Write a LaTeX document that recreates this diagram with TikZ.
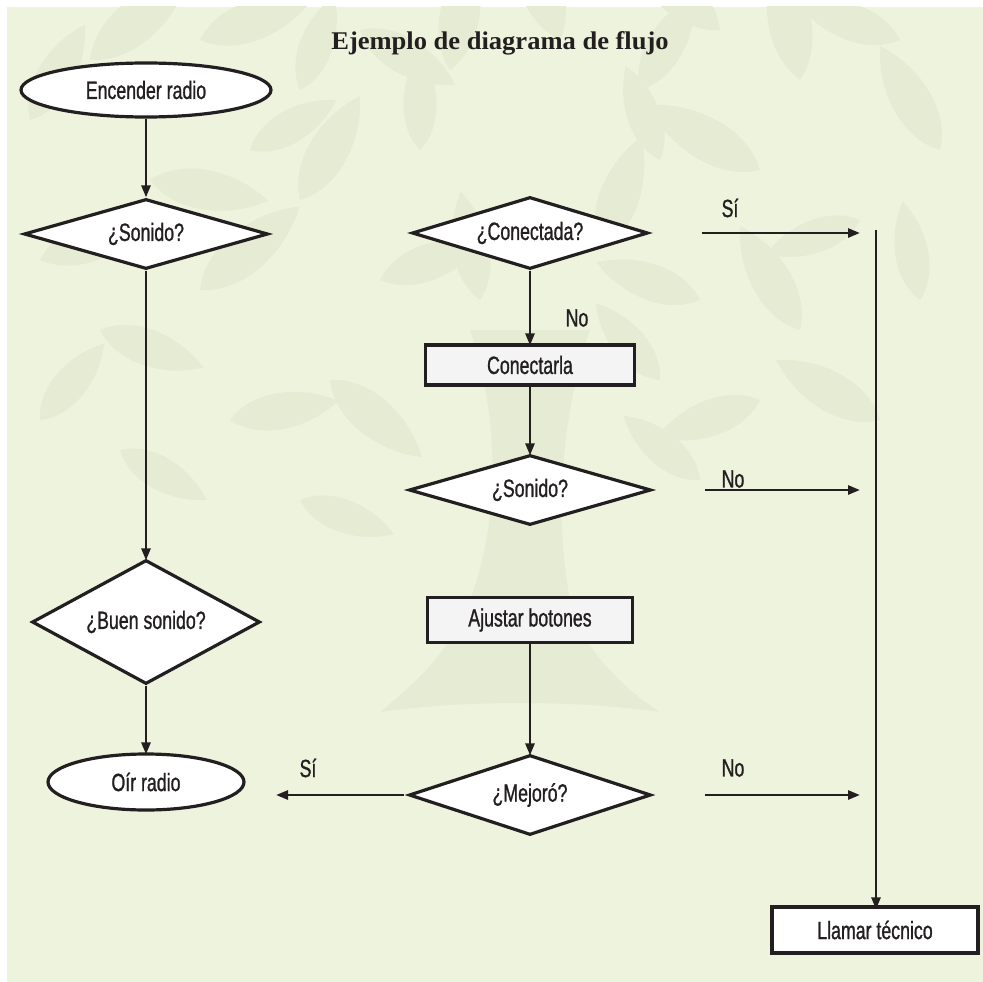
\documentclass[tikz,border=0pt]{standalone}
\usepackage{fontspec}
\usetikzlibrary{shapes.geometric,arrows.meta}
\newfontfamily\condfont[FakeStretch=0.71,FakeBold=1.0]{Liberation Sans}
\newfontfamily\headfont[FakeStretch=1.04]{Liberation Serif}
\definecolor{panel}{HTML}{EEF3DE}
\definecolor{leafc}{HTML}{E6ECD4}
\definecolor{ink}{HTML}{231F20}
\definecolor{boxfill}{HTML}{F4F4F4}
\tikzset{
  base/.style={draw=ink, line width=3.2pt, fill=white, text=ink,
    font=\condfont\fontsize{25}{27}\selectfont, inner sep=0pt},
  term/.style={base, ellipse},
  decision/.style={base, diamond},
  stepbox/.style={base, rectangle, fill=boxfill},
  flow/.style={draw=ink, line width=2.6pt, -{Triangle[length=12pt,width=9pt]}},
  lbl/.style={text=ink, font=\condfont\fontsize{25}{27}\selectfont, inner sep=0pt},
  leaf/.pic={\fill[leafc] (0,0) .. controls (25,-24) and (70,-20) .. (100,0)
      .. controls (70,20) and (25,24) .. (0,0) -- cycle;}
}
\begin{document}
\begin{tikzpicture}[x=1pt,y=-1pt]
\useasboundingbox (0,0) rectangle (983,982);
% background panel
\fill[panel] (7,7) rectangle (983,982);

% faint tree in the background
\begin{scope}
  \clip (7,7) rectangle (983,982);
  \foreach \lx/\ly/\la/\ls in {
    30/120/60/1.1, 90/60/40/1.3, 200/40/20/1.2, 300/90/70/1.0, 360/30/-30/1.1,
    450/70/80/1.2, 560/40/110/1.3, 640/90/60/1.1, 720/30/140/1.2, 800/80/100/1.3,
    900/40/160/1.1, 940/150/120/1.2, 860/220/200/1.0, 760/170/150/1.3,
    660/160/110/1.0, 600/250/70/1.2, 700/300/160/1.1, 800/330/120/1.2,
    920/300/100/1.0, 880/420/150/1.2, 760/400/200/1.1, 660/380/130/1.0,
    40/260/20/1.2, 100/330/-20/1.1, 200/290/40/1.3, 300/200/60/1.2,
    380/280/20/1.1, 330/380/-40/1.2, 230/420/10/1.1, 120/450/-30/1.0,
    420/150/90/1.0, 480/300/100/1.1, 250/150/30/1.0, 150/180/-10/1.2,
    40/420/50/1.0, 700/480/140/1.0, 300/500/-20/1.0}
    \pic[rotate=\la, scale=\ls] at (\lx,\ly) {leaf};
  \fill[leafc] (470,330) .. controls (500,420) and (500,520) .. (470,600)
    .. controls (450,650) and (420,680) .. (380,712)
    .. controls (470,700) and (570,700) .. (660,712)
    .. controls (610,680) and (580,640) .. (570,600)
    .. controls (555,520) and (560,420) .. (590,330) -- cycle;
\end{scope}

% title
\node[text=ink, font=\headfont\bfseries\fontsize{25.5}{28}\selectfont] (title) at (500,43) {Ejemplo de diagrama de flujo};

% left column
\node[term, minimum width=250pt, minimum height=54pt] (start) at (146,90) {Encender radio};
\node[decision, aspect=3.5, minimum width=244pt, minimum height=70pt] (snd1) at (146,234) {¿Sonido?};
\node[decision, aspect=1.84, minimum width=228pt, minimum height=124pt] (good) at (146,622) {¿Buen sonido?};
\node[term, minimum width=196pt, minimum height=56pt] (listen) at (146,782) {Oír radio};

% middle column
\node[decision, aspect=3.3, minimum width=236pt, minimum height=72pt] (plug) at (530,233) {¿Conectada?};
\node[stepbox, minimum width=209pt, minimum height=40pt] (connect) at (530,365) {Conectarla};
\node[decision, aspect=3.5, minimum width=242pt, minimum height=70pt] (snd2) at (530,490) {¿Sonido?};
\node[stepbox, minimum width=205pt, minimum height=45pt] (adjust) at (530,620) {Ajustar botones};
\node[decision, aspect=3, minimum width=242pt, minimum height=80pt] (better) at (530,795) {¿Mejoró?};

% right column
\node[stepbox, fill=white, minimum width=206pt, minimum height=46pt] (call) at (875,930) {Llamar técnico};
\coordinate (top) at (876,230);
\coordinate (j1) at (860,233);
\coordinate (j2) at (860,490);
\coordinate (j3) at (860,795);
\coordinate (j4) at (276,795);

% connectors
\draw[flow] (start) -- (snd1);
\draw[flow] (snd1) -- ([yshift=-2pt]good.north);
\draw[flow] (good) -- ([yshift=-2pt]listen.north);
\draw[flow] (plug) -- ([yshift=-2pt]connect.north);
\draw[flow] (connect) -- ([yshift=-2pt]snd2.north);
\draw[flow] (adjust) -- ([yshift=-2pt]better.north);
\draw[flow] ([xshift=52pt]plug.east) -- (j1);
\draw[flow] ([xshift=52pt]snd2.east) -- (j2);
\draw[flow] ([xshift=52pt]better.east) -- (j3);
\draw[flow] ([xshift=-3pt]better.west) -- (j4);
\draw[flow] (top) -- ([yshift=-4pt]call.north -| top);

% branch labels
\node[lbl] (l1) at (730,208) {Sí};
\node[lbl] (l2) at (577,318) {No};
\node[lbl] (l3) at (733,479) {No};
\node[lbl] (l4) at (733,768) {No};
\node[lbl] (l5) at (308,768) {Sí};
\end{tikzpicture}
\end{document}
